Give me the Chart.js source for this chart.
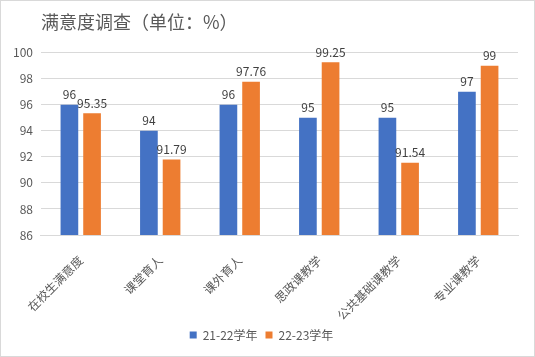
<!DOCTYPE html>
<html><head><meta charset="utf-8">
<script src="https://cdn.jsdelivr.net/npm/chart.js@4/dist/chart.umd.min.js"></script>
<style>
html,body{margin:0;padding:0;background:#fff;}
#wrap{position:absolute;left:0;top:0;width:533px;height:355px;border:1px solid #d9d9d9;}
canvas{display:block;}
</style></head><body>
<div id="wrap"><canvas id="c" width="533" height="355"></canvas></div>
<script>
const categories = ["在校生满意度","课堂育人","课外育人","思政课教学","公共基础课教学","专业课教学"];
const series1Name = "21-22学年";
const series1 = [96, 94, 96, 95, 95, 97];
const series2Name = "22-23学年";
const series2 = [95.35, 91.79, 97.76, 99.25, 91.54, 99];
const yTicks = [86, 88, 90, 92, 94, 96, 98, 100];

const font = "'Microsoft YaHei','Noto Sans CJK SC','DejaVu Sans',sans-serif";

const valueLabels = {
  id: 'valueLabels',
  afterDatasetsDraw(chart) {
    const ctx = chart.ctx;
    ctx.save();
    ctx.fillStyle = '#404040';
    ctx.font = "12px " + font;
    ctx.textAlign = 'center';
    ctx.textBaseline = 'bottom';
    chart.data.datasets.forEach((ds, i) => {
      chart.getDatasetMeta(i).data.forEach((bar, j) => {
        ctx.fillText(String(ds.data[j]), bar.x, bar.y - 4);
      });
    });
    ctx.restore();
  }
};

new Chart(document.getElementById('c'), {
  type: 'bar',
  data: {
    labels: categories,
    datasets: [
      {label: series1Name, data: series1, backgroundColor: '#4472c4', barPercentage: 0.78, categoryPercentage: 0.57},
      {label: series2Name, data: series2, backgroundColor: '#ed7d31', barPercentage: 0.78, categoryPercentage: 0.57}
    ]
  },
  options: {
    responsive: false,
    animation: false,
    layout: {padding: {left: 4, right: 16, top: 6, bottom: 5}},
    plugins: {
      title: {display: true, text: '满意度调查（单位：%）', align: 'start', fullSize: false, color: '#595959',
        font: {size: 18, family: font, weight: 'normal'}, padding: {top: 4, bottom: 20}},
      legend: {position: 'bottom', labels: {boxWidth: 7, boxHeight: 7, color: '#595959',
        font: {size: 12, family: font}, padding: 8}},
      tooltip: {enabled: false}
    },
    scales: {
      x: {
        grid: {display: false},
        border: {color: '#d9d9d9'},
        ticks: {color: '#595959', font: {size: 12, family: font}, minRotation: 45, maxRotation: 45, padding: 10},
        afterFit: (axis) => { axis.height = 86; }
      },
      y: {
        min: 86, max: 100,
        afterBuildTicks: (axis) => { axis.ticks = yTicks.map(v => ({value: v})); },
        grid: {color: '#d9d9d9', drawTicks: false},
        border: {display: false},
        ticks: {color: '#595959', font: {size: 12, family: font}, padding: 8}
      }
    }
  },
  plugins: [valueLabels]
});
</script>
</body></html>
